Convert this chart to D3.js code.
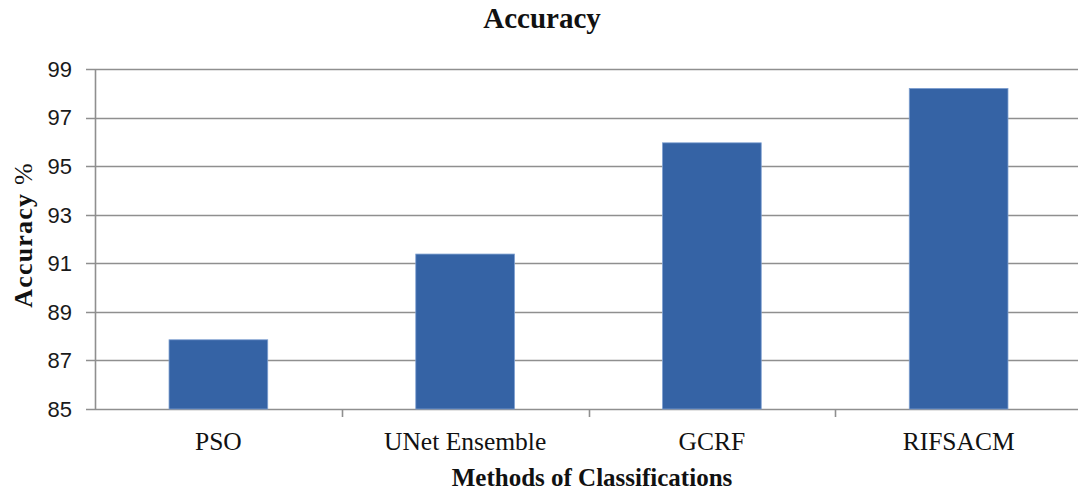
<!DOCTYPE html>
<html>
<head>
<meta charset="utf-8">
<script src="https://cdn.jsdelivr.net/npm/d3@7"></script>
<style>
  html, body { margin: 0; padding: 0; background: #fff; }
  svg { display: block; }
</style>
</head>
<body>
<svg id="chart" width="1078" height="491"></svg>
<script>
// Accuracy of each classification method (%)
const categories = ["PSO", "UNet Ensemble", "GCRF", "RIFSACM"];
const accuracy = [87.85, 91.38, 95.96, 98.2];
const yTicks = [85, 87, 89, 91, 93, 95, 97, 99];

const svg = d3.select("#chart");
const margin = { left: 95, right: -4, top: 69, bottom: 82 };
const W = 1078, H = 491;

const x = d3.scaleBand()
  .domain(categories)
  .range([margin.left, W - margin.right])
  .paddingInner(0.6)
  .paddingOuter(0.3);

const xCat = d3.scaleBand()
  .domain(categories)
  .range([margin.left, W - margin.right]);

const y = d3.scaleLinear()
  .domain([85, 99])
  .range([H - margin.bottom, margin.top]);

const gridColor = "#8f8f8f";

// horizontal gridlines with short ticks left of the axis
svg.append("g")
  .selectAll("line")
  .data(yTicks)
  .join("line")
  .attr("x1", margin.left - 9)
  .attr("x2", W)
  .attr("y1", d => Math.round(y(d)) + 0.5)
  .attr("y2", d => Math.round(y(d)) + 0.5)
  .attr("stroke", gridColor)
  .attr("stroke-width", 1.6);

// y axis line
svg.append("line")
  .attr("x1", margin.left + 0.5).attr("x2", margin.left + 0.5)
  .attr("y1", y(99)).attr("y2", y(85) + 1)
  .attr("stroke", gridColor).attr("stroke-width", 1.6);

// y tick labels
svg.append("g")
  .selectAll("text")
  .data(yTicks)
  .join("text")
  .attr("x", 72)
  .attr("y", d => y(d))
  .attr("dy", "0.36em")
  .attr("text-anchor", "end")
  .attr("font-family", "Liberation Sans, Arial, sans-serif")
  .attr("font-size", 22)
  .attr("fill", "#1a1a1a")
  .text(d => d);

// bars
svg.append("g")
  .selectAll("rect")
  .data(categories)
  .join("rect")
  .attr("x", d => x(d))
  .attr("width", x.bandwidth())
  .attr("y", (d, i) => y(accuracy[i]))
  .attr("height", (d, i) => y(85) - y(accuracy[i]))
  .attr("fill", "#3563a5")
  .attr("stroke", "#7d9fd0")
  .attr("stroke-width", 0.8);

// category separator ticks on the x axis
const bounds = categories.map(c => xCat(c)).concat([xCat(categories[categories.length - 1]) + xCat.bandwidth()]);
svg.append("g")
  .selectAll("line")
  .data(bounds.slice(1))
  .join("line")
  .attr("x1", d => Math.round(d) + 0.5)
  .attr("x2", d => Math.round(d) + 0.5)
  .attr("y1", y(85))
  .attr("y2", y(85) + 8)
  .attr("stroke", gridColor)
  .attr("stroke-width", 1.6);

// category labels
svg.append("g")
  .selectAll("text")
  .data(categories)
  .join("text")
  .attr("x", d => xCat(d) + xCat.bandwidth() / 2)
  .attr("y", 450)
  .attr("text-anchor", "middle")
  .attr("font-family", "Liberation Serif, Times New Roman, serif")
  .attr("font-size", 25.5)
  .attr("fill", "#111")
  .text(d => d);

// chart title
svg.append("text")
  .attr("x", 542)
  .attr("y", 28)
  .attr("text-anchor", "middle")
  .attr("font-family", "Liberation Serif, Times New Roman, serif")
  .attr("font-weight", "bold")
  .attr("font-size", 29)
  .attr("fill", "#111")
  .text("Accuracy");

// x axis title
svg.append("text")
  .attr("x", 592)
  .attr("y", 486)
  .attr("text-anchor", "middle")
  .attr("font-family", "Liberation Serif, Times New Roman, serif")
  .attr("font-weight", "bold")
  .attr("font-size", 25)
  .attr("fill", "#111")
  .text("Methods of Classifications");

// y axis title
const yTitle = svg.append("text")
  .attr("transform", "translate(32,235) rotate(-90)")
  .attr("text-anchor", "middle")
  .attr("font-family", "Liberation Serif, Times New Roman, serif")
  .attr("font-weight", "bold")
  .attr("font-size", 26)
  .attr("letter-spacing", 1.2)
  .attr("fill", "#111");
yTitle.append("tspan").text("Accuracy ");
yTitle.append("tspan").attr("font-weight", "normal").text("%");
</script>
</body>
</html>
